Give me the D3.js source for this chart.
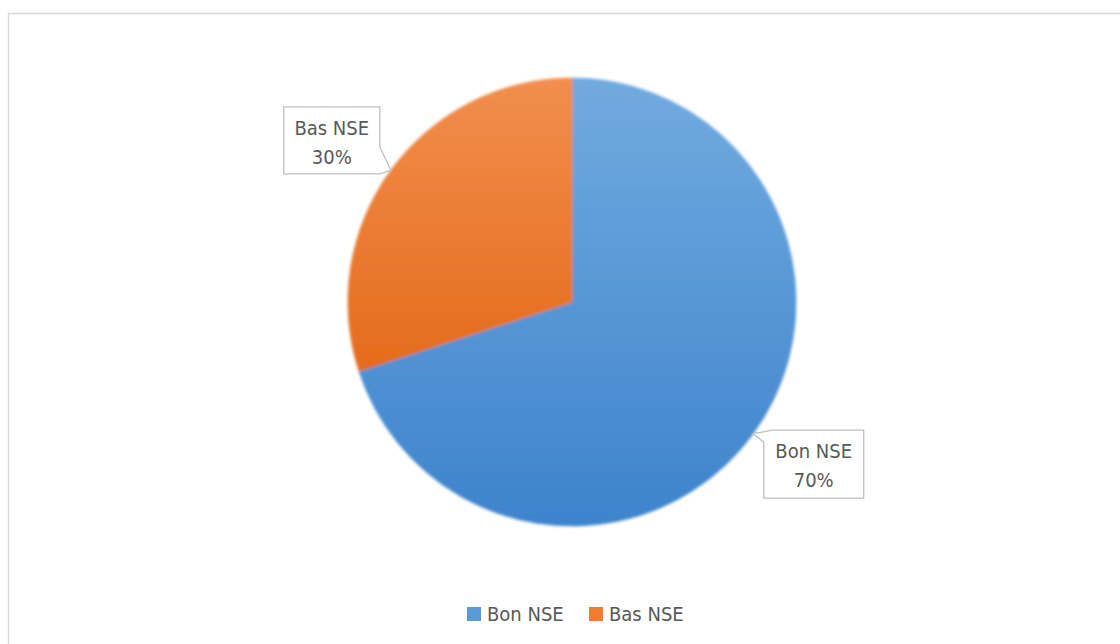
<!DOCTYPE html>
<html>
<head>
<meta charset="utf-8">
<script src="https://cdn.jsdelivr.net/npm/d3@7"></script>
<style>
  html, body { margin: 0; padding: 0; background: #fff; }
  svg { display: block; }
  text { font-family: "Liberation Sans Narrow", "Arial Narrow", "DejaVu Sans Condensed", sans-serif; fill: #595959; }
</style>
</head>
<body>
<svg id="chart" width="1120" height="644"></svg>
<script>
// Share of respondents by socio-economic level (NSE)
const categories = ["Bon NSE", "Bas NSE"];
const values = [70, 30];
const labelTexts = ["70%", "30%"];

const W = 1120, H = 644;
const cx = 572, cy = 302, R = 224;
const fontSize = 20;

const svg = d3.select("#chart");
const defs = svg.append("defs");

// Slice gradients: lighter on top, deeper at the bottom
const gradStops = {
  "Bon NSE": ["#71aadf", "#3d83cc"],
  "Bas NSE": ["#f28e4e", "#e46b1b"]
};
categories.forEach((c, i) => {
  const g = defs.append("linearGradient")
    .attr("id", "grad" + i)
    .attr("x1", 0).attr("y1", 0).attr("x2", 0).attr("y2", 1);
  g.append("stop").attr("offset", "0%").attr("stop-color", gradStops[c][0]);
  g.append("stop").attr("offset", "100%").attr("stop-color", gradStops[c][1]);
});

// Soft edges on the pie
const soft = defs.append("filter").attr("id", "soft")
  .attr("x", "-10%").attr("y", "-10%").attr("width", "120%").attr("height", "120%");
soft.append("feGaussianBlur").attr("stdDeviation", 1.8);

// Chart area frame
svg.append("rect")
  .attr("x", 8.5).attr("y", 13.5)
  .attr("width", W).attr("height", H)
  .attr("fill", "none")
  .attr("stroke", "#d9d9d9")
  .attr("stroke-width", 1.5);

const color = d3.scaleOrdinal().domain(categories).range(["url(#grad0)", "url(#grad1)"]);
const legendColor = d3.scaleOrdinal().domain(categories).range(["#5b9bd5", "#ed7d31"]);

const pie = d3.pie().sort(null).value(d => d.value);
const data = categories.map((c, i) => ({ name: c, value: values[i], label: labelTexts[i] }));
const arcs = pie(data);
const arc = d3.arc().innerRadius(0).outerRadius(R);

const pieG = svg.append("g")
  .attr("transform", `translate(${cx},${cy})`)
  .attr("filter", "url(#soft)");

pieG.selectAll("path")
  .data(arcs)
  .join("path")
  .attr("d", arc)
  .attr("fill", d => color(d.data.name))
  .attr("stroke", d => color(d.data.name))
  .attr("stroke-width", 0.8);

// Callout labels, tail tip at the outer edge of each slice's middle
const boxW = 96, boxH = 67;

arcs.forEach(d => {
  const mid = (d.startAngle + d.endAngle) / 2;
  const tip = [cx + R * Math.sin(mid), cy - R * Math.cos(mid)];
  const right = Math.sin(mid) > 0;
  let x0, y0, pathD;
  if (right) {
    // box sits below-right of the tip, tail from its top-left corner
    x0 = tip[0] + 10.5; y0 = tip[1] - 3.5;
    pathD = `M${x0},${y0 + 12} L${tip[0]},${tip[1]} L${x0 + 9},${y0}
             L${x0 + boxW + 4},${y0} L${x0 + boxW + 4},${y0 + boxH + 1} L${x0},${y0 + boxH + 1} Z`;
  } else {
    // box sits above-left of the tip, tail from its bottom-right corner
    x0 = tip[0] - 11 - boxW; y0 = tip[1] - 63.5;
    pathD = `M${x0},${y0} L${x0 + boxW},${y0} L${x0 + boxW},${y0 + 40}
             L${tip[0]},${tip[1]} L${x0 + boxW},${y0 + boxH} L${x0},${y0 + boxH} Z`;
  }
  const g = svg.append("g");
  g.append("path")
    .attr("d", pathD)
    .attr("fill", "#fff")
    .attr("stroke", "#bfbfbf")
    .attr("stroke-width", 1.3);
  const bw = right ? boxW + 4 : boxW;
  g.append("text")
    .attr("x", x0 + bw / 2).attr("y", y0 + 28)
    .attr("text-anchor", "middle")
    .attr("font-size", fontSize)
    .text(d.data.name);
  g.append("text")
    .attr("x", x0 + bw / 2).attr("y", y0 + 57)
    .attr("text-anchor", "middle")
    .attr("font-size", fontSize)
    .text(d.data.label);
});

// Legend
const legendPos = [467, 589];
const legend = svg.append("g");
categories.forEach((c, i) => {
  legend.append("rect")
    .attr("x", legendPos[i]).attr("y", 607)
    .attr("width", 14).attr("height", 14)
    .attr("fill", legendColor(c));
  legend.append("text")
    .attr("x", legendPos[i] + 20).attr("y", 620.5)
    .attr("font-size", fontSize)
    .text(c);
});
</script>
</body>
</html>
